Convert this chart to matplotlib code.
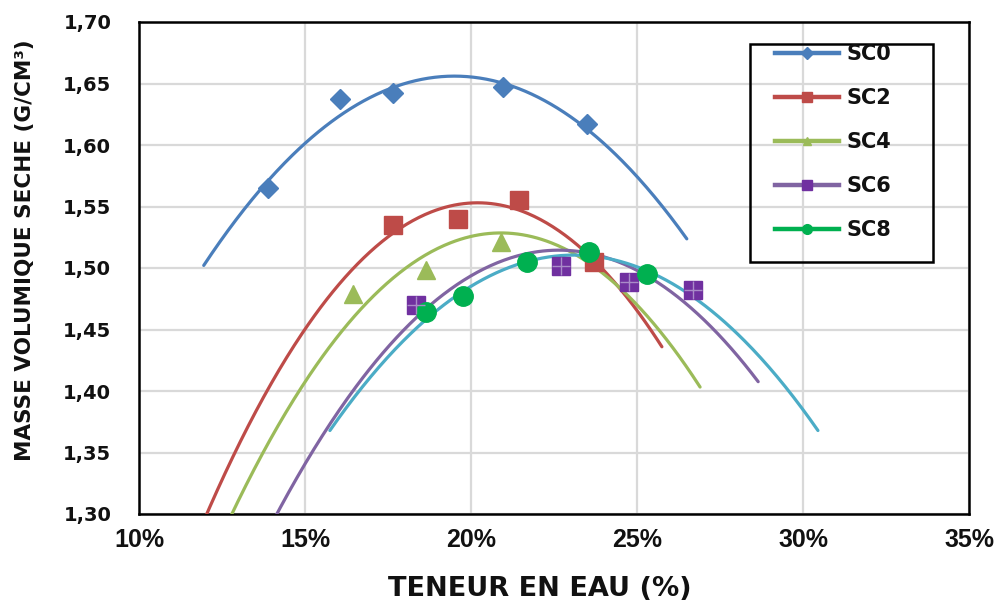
import numpy as np
import matplotlib
matplotlib.use("Agg")
import matplotlib.pyplot as plt
from matplotlib.lines import Line2D
from matplotlib.patches import Rectangle
from matplotlib.ticker import FixedLocator, FuncFormatter

# ---------------- data ----------------
series_names = ["SC0", "SC2", "SC4", "SC6", "SC8"]

sc0_w = [13.9, 16.05, 17.65, 20.95, 23.5]
sc0_d = [1.565, 1.637, 1.642, 1.647, 1.617]

sc2_w = [17.65, 19.6, 21.45, 23.7]
sc2_d = [1.535, 1.540, 1.555, 1.505]

sc4_w = [16.45, 18.65, 20.9]
sc4_d = [1.479, 1.498, 1.521]

sc6_w = [18.35, 22.7, 24.75, 26.7]
sc6_d = [1.470, 1.502, 1.489, 1.482]

sc8_w = [18.65, 19.75, 21.7, 23.55, 25.3]
sc8_d = [1.464, 1.477, 1.505, 1.513, 1.495]

# order-2 trend lines (Proctor curves):
# optimum water content (%), maximum dry density, curvature
trend_w_opt = [19.5, 20.2, 20.9, 22.65, 23.1]
trend_d_max = [1.656, 1.553, 1.5285, 1.5145, 1.5105]
trend_curv = [0.0027, 0.0038, 0.00348, 0.00297, 0.00264]
# extent of each trend line, in % water content
trend_start = [11.95, 11.9, 12.5, 13.5, 15.75]
trend_end = [26.5, 25.75, 26.9, 28.65, 30.45]

x_ticks = [10, 15, 20, 25, 30, 35]
y_ticks = [1.30, 1.35, 1.40, 1.45, 1.50, 1.55, 1.60, 1.65, 1.70]

# ---------------- styles ----------------
marker_colors = ["#4A7EBB", "#BE4B48", "#9BBB59", "#7030A0", "#00B050"]
line_colors = ["#4A7EBB", "#BE4B48", "#9BBB59", "#8064A2", "#4BACC6"]
legend_line_colors = ["#4A7EBB", "#BE4B48", "#9BBB59", "#8064A2", "#00B050"]
markers = ["D", "s", "^", "s", "o"]
msizes = [10, 13, 13, 13, 14]

xs_all = [sc0_w, sc2_w, sc4_w, sc6_w, sc8_w]
ys_all = [sc0_d, sc2_d, sc4_d, sc6_d, sc8_d]

W, H = 995, 608
fig = plt.figure(figsize=(W / 100, H / 100), dpi=100)
ax = fig.add_axes([139 / W, 1 - 514 / H, (969 - 139) / W, (514 - 22) / H])

for i in range(5):
    xx = np.linspace(trend_start[i], trend_end[i], 300)
    yy = trend_d_max[i] - trend_curv[i] * (xx - trend_w_opt[i]) ** 2
    ax.plot(xx, yy, color=line_colors[i], lw=2.3, zorder=3, solid_capstyle="round")

for i in range(5):
    ax.plot(xs_all[i], ys_all[i], linestyle="none", marker=markers[i], ms=msizes[i],
            color=marker_colors[i], mec=marker_colors[i], zorder=4)
    if i == 3:
        ax.plot(xs_all[i], ys_all[i], linestyle="none", marker="+",
                ms=msizes[i] * 0.95, mew=1.0, color="#A98BC8", zorder=4.1)

ax.set_xlim(x_ticks[0], x_ticks[-1])
ax.set_ylim(y_ticks[0], y_ticks[-1])
ax.xaxis.set_major_locator(FixedLocator(x_ticks))
ax.yaxis.set_major_locator(FixedLocator(y_ticks))
ax.xaxis.set_major_formatter(FuncFormatter(lambda v, p: f"{v:.0f}%"))
ax.yaxis.set_major_formatter(FuncFormatter(lambda v, p: f"{v:.2f}".replace(".", ",")))

ax.grid(True, color="#D9D9D9", lw=1.6)
ax.set_axisbelow(True)
for s in ax.spines.values():
    s.set_color("black")
    s.set_linewidth(1.8)

ax.tick_params(axis="both", length=0)
ax.tick_params(axis="x", pad=10)
ax.tick_params(axis="y", pad=20)
for lab in ax.get_xticklabels():
    lab.set_fontfamily("Liberation Sans")
    lab.set_fontweight("bold")
    lab.set_fontsize(18)
    lab.set_color("#111111")
for lab in ax.get_yticklabels():
    lab.set_fontfamily("DejaVu Sans")
    lab.set_fontweight("bold")
    lab.set_fontsize(14)
    lab.set_color("#111111")

ax.set_xlabel("TENEUR EN EAU (%)", fontfamily="DejaVu Sans", fontweight="bold",
              fontsize=19.5, color="#111111")
ax.xaxis.set_label_coords((540 - 139) / 830, (514 - 576) / 492)
ax.set_ylabel("MASSE VOLUMIQUE SECHE (G/CM³)", fontfamily="DejaVu Sans",
              fontweight="bold", fontsize=15.5, color="#111111")
ax.yaxis.label.set_va("center")
ax.yaxis.set_label_coords((25 - 139) / 830, (514 - 250) / 492)

# legend
handles = [Line2D([0], [0], color=legend_line_colors[i], lw=3.2, marker=markers[i],
                  ms=[6, 7, 6, 7, 7][i], mfc=marker_colors[i], mec=marker_colors[i])
           for i in range(5)]
leg = ax.legend(handles, series_names, loc="upper left",
                bbox_to_anchor=(775 / W, 1 - 44 / H), bbox_transform=fig.transFigure,
                frameon=False, borderpad=0, borderaxespad=0, handlelength=3.08,
                handletextpad=0.34, labelspacing=1.15, numpoints=1,
                prop={"family": "DejaVu Sans", "weight": "bold", "size": 15})
for t in leg.get_texts():
    t.set_color("#111111")
frame = Rectangle((750 / W, 1 - 262 / H), 183 / W, 218 / H, transform=fig.transFigure,
                  fill=False, edgecolor="black", lw=1.8, zorder=4.5, clip_on=False)
ax.add_artist(frame)

fig.savefig("out.png", dpi=100)
